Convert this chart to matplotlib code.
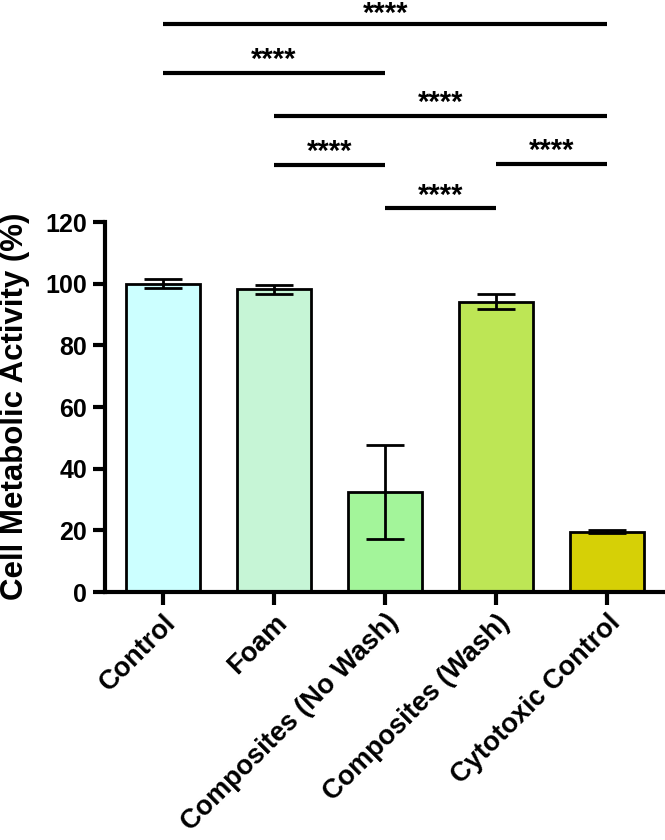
import matplotlib
import matplotlib.pyplot as plt

matplotlib.use('Agg')

plt.rcParams['font.family'] = ['Liberation Sans', 'DejaVu Sans']
plt.rcParams['font.weight'] = 'bold'

categories = ["Control", "Foam", "Composites (No Wash)", "Composites (Wash)", "Cytotoxic Control"]
means = [100.0, 98.2, 32.4, 94.2, 19.6]
errors = [1.5, 1.4, 15.2, 2.3, 0.4]
colors = ["#ccffff", "#c6f5d6", "#a3f59a", "#bde655", "#d6d006"]

# significance brackets: (from bar, to bar, height, label)
sig_pairs = [
    (0, 4, 184.2, "****"),
    (0, 2, 168.4, "****"),
    (1, 4, 154.4, "****"),
    (1, 2, 138.6, "****"),
    (3, 4, 138.8, "****"),
    (2, 3, 124.4, "****"),
]

fig = plt.figure(figsize=(6.65, 8.4), dpi=100)
ax = fig.add_axes([0.158, 0.2952, 0.839, 0.4405])

x = list(range(len(categories)))
ax.bar(x, means, width=0.667, color=colors, edgecolor='black', linewidth=2, zorder=2)
ax.errorbar(x, means, yerr=errors, fmt='none', ecolor='black', elinewidth=2,
            capsize=14, capthick=2, zorder=3)

for a, b, h, lab in sig_pairs:
    ax.plot([a, b], [h, h], color='black', linewidth=3, clip_on=False,
            solid_capstyle='butt')
    # top label sits right at the edge of the figure, nudge it down a little
    off = 3.3 if h > 180 else 4.2
    ax.text((a + b) / 2, h + off, lab, ha='center', va='center',
            fontsize=21, fontweight='bold', clip_on=False)

ax.set_xlim(-0.52, 4.5)
ax.set_ylim(0, 120)
ax.set_yticks([0, 20, 40, 60, 80, 100, 120])
ax.set_xticks(x)
ax.set_xticklabels(categories, rotation=45, ha='right', rotation_mode='anchor')
ax.tick_params(axis='both', width=3, length=9)
ax.tick_params(axis='x', labelsize=19.5)
ax.tick_params(axis='y', labelsize=18, pad=4)
for lab in ax.get_xticklabels() + ax.get_yticklabels():
    lab.set_fontweight('bold')
ax.set_ylabel("Cell Metabolic Activity (%)", fontsize=22.5, fontweight='bold')
ax.yaxis.set_label_coords(-0.1344, 0.503)

ax.spines['top'].set_visible(False)
ax.spines['right'].set_visible(False)
ax.spines['left'].set_linewidth(3)
ax.spines['bottom'].set_linewidth(3)

plt.savefig('out.png', dpi=100)
